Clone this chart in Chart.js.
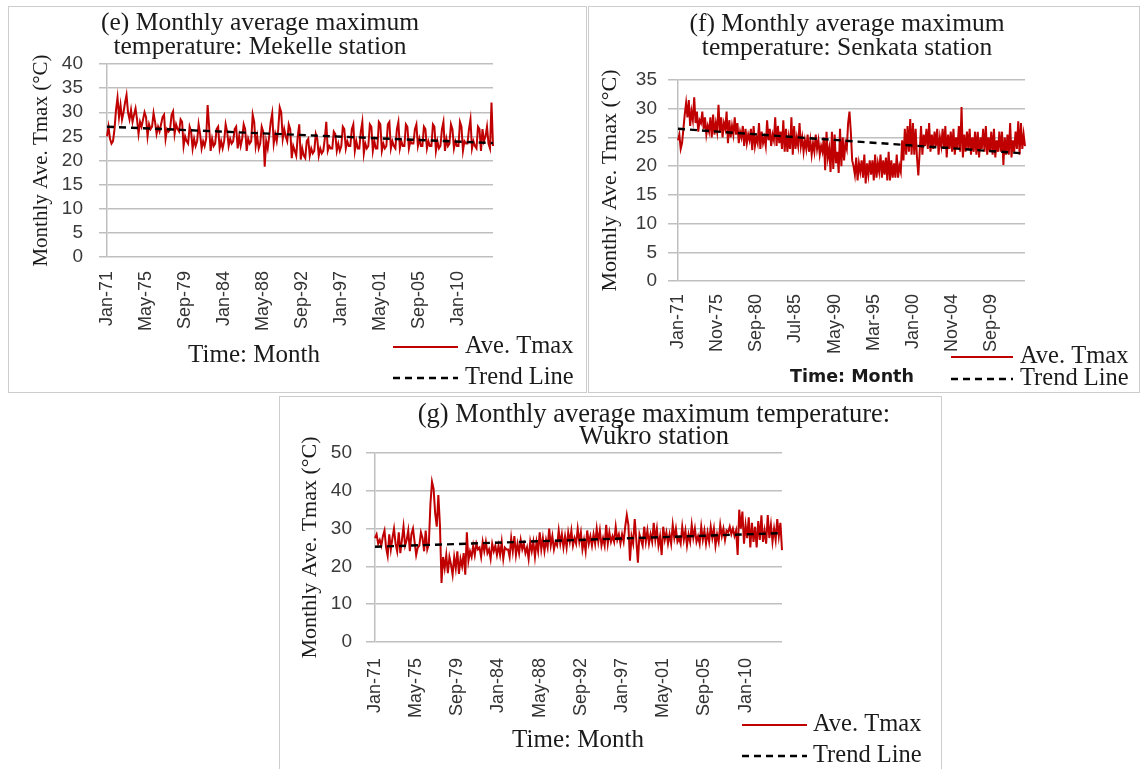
<!DOCTYPE html>
<html>
<head>
<meta charset="utf-8">
<title>Monthly average maximum temperature</title>
<script src="https://cdn.jsdelivr.net/npm/chart.js@4.4.1/dist/chart.umd.min.js"></script>
<style>
  html, body { margin: 0; background: #fff; }
  body { position: relative; width: 1141px; height: 769px; overflow: hidden; }
  .frame { position: absolute; box-sizing: border-box; border: 1px solid #cdcdcd; }
  canvas { position: absolute; }
</style>
</head>
<body>
<div class="frame" style="left:8px;top:6px;width:579px;height:387px"></div>
<div class="frame" style="left:588px;top:6px;width:552px;height:387px"></div>
<div class="frame" style="left:279px;top:396px;width:663px;height:380px"></div>
<canvas id="chartE" width="578" height="387" style="left:8px;top:6px"></canvas>
<canvas id="chartF" width="551" height="387" style="left:589px;top:6px"></canvas>
<canvas id="chartG" width="663" height="373" style="left:279px;top:396px"></canvas>

<script>
// every other month, Jan-71 .. Nov-13
const MONTH_NAMES = ['Jan', 'Mar', 'May', 'Jul', 'Sep', 'Nov'];
const months = [];
for (let yr = 1971; yr <= 2013; yr++) {
    MONTH_NAMES.forEach(m => months.push(`${m}-${String(yr % 100).padStart(2, '0')}`));
}

// labels shown on the time axis
const ticksMekelle = ['Jan-71', 'May-75', 'Sep-79', 'Jan-84', 'May-88', 'Sep-92', 'Jan-97', 'May-01', 'Sep-05', 'Jan-10'];
const ticksSenkata = ['Jan-71', 'Nov-75', 'Sep-80', 'Jul-85', 'May-90', 'Mar-95', 'Jan-00', 'Nov-04', 'Sep-09'];
const ticksWukro = ['Jan-71', 'May-75', 'Sep-79', 'Jan-84', 'May-88', 'Sep-92', 'Jan-97', 'May-01', 'Sep-05', 'Jan-10'];

// Ave. Tmax (°C), one row per year
const tmaxMekelle = [
    25.0, 27.0, 24.5, 23.5, 24.0, 26.5,
    30.5, 33.0, 29.0, 31.5, 28.5, 30.0,
    32.0, 33.6, 30.0, 28.5, 30.5, 28.0,
    29.5, 30.8, 28.5, 25.5, 28.0, 27.0,
    28.5, 30.0, 29.0, 25.0, 27.5, 26.5,
    27.0, 29.8, 28.0, 25.5, 27.0, 26.0,
    27.5, 29.0, 29.5, 24.5, 26.5, 26.0,
    26.5, 29.5, 30.2, 25.5, 27.5, 26.5,
    26.0, 28.5, 28.0, 23.0, 25.0, 24.0,
    23.5, 27.0, 26.0, 22.5, 24.5, 23.0,
    24.0, 27.5, 25.5, 22.5, 24.0, 23.0,
    24.5, 31.5, 27.0, 22.0, 24.5, 23.0,
    23.5, 26.5, 27.0, 22.5, 24.0, 22.5,
    24.0, 27.5, 26.0, 23.0, 24.5, 23.5,
    24.0, 26.5, 27.0, 22.5, 25.0, 23.0,
    24.5, 27.5, 26.5, 22.0, 24.5, 23.5,
    24.0, 29.5, 28.0, 23.0, 25.0, 22.5,
    23.5, 27.0, 26.0, 18.7, 24.0, 22.5,
    25.0, 28.0, 29.8, 23.5, 25.5, 24.0,
    26.5, 31.0, 30.0, 24.5, 26.5, 25.0,
    24.0, 27.5, 26.5, 20.5, 23.0, 22.0,
    21.0, 25.0, 27.5, 20.2, 22.5, 21.0,
    20.5, 24.0, 24.5, 21.0, 22.5, 21.5,
    22.0, 25.5, 24.5, 21.0, 22.5, 21.5,
    22.0, 24.5, 28.0, 22.0, 23.0, 22.5,
    22.5, 26.0, 25.5, 22.0, 23.5, 22.0,
    23.0, 27.0, 26.5, 22.5, 24.0, 23.0,
    23.0, 26.5, 27.5, 22.0, 24.0, 22.5,
    22.5, 26.0, 28.0, 21.5, 23.5, 22.5,
    23.0, 27.5, 27.0, 22.0, 24.0, 22.5,
    22.5, 28.0, 27.5, 22.0, 23.5, 22.5,
    23.0, 27.5, 28.0, 22.5, 24.0, 23.0,
    22.5, 26.5, 28.0, 22.5, 24.0, 23.0,
    23.0, 27.5, 27.0, 22.5, 24.0, 23.5,
    23.5, 26.5, 27.5, 23.0, 24.5, 23.0,
    23.0, 27.0, 26.5, 22.5, 24.0, 23.0,
    23.0, 27.5, 27.0, 22.0, 24.0, 22.5,
    23.0, 26.5, 28.0, 22.0, 24.5, 23.0,
    23.5, 27.5, 26.5, 22.5, 24.0, 23.0,
    23.0, 28.0, 27.0, 22.0, 24.0, 23.5,
    23.5, 26.5, 28.5, 22.5, 24.0, 23.0,
    22.5, 27.0, 26.5, 22.0, 26.5, 24.0,
    25.0, 27.0, 23.5, 22.5, 32.0, 23.0
];

const tmaxSenkata = [
    24.5, 25.5, 23.0, 24.0, 26.5, 29.0,
    31.0, 28.5, 31.5, 27.0, 29.5, 28.0,
    32.0, 27.5, 29.5, 26.0, 28.0, 27.5,
    29.5, 26.5, 28.5, 25.5, 27.0, 26.0,
    28.5, 25.0, 29.0, 25.5, 27.5, 26.0,
    30.7, 26.0, 28.5, 25.0, 27.5, 26.5,
    29.5, 24.0, 28.0, 25.0, 27.0, 25.5,
    28.5, 25.5, 27.5, 24.0, 26.0, 25.0,
    27.0, 23.5, 26.5, 24.0, 25.5, 24.5,
    26.5, 22.8, 27.0, 23.5, 25.0, 24.0,
    27.5, 23.0, 26.0, 24.0, 25.0, 23.5,
    28.0, 24.5, 26.5, 23.5, 25.5, 24.5,
    28.5, 23.5, 27.0, 24.0, 26.0, 23.0,
    28.0, 22.5, 26.5, 22.5, 25.0, 23.0,
    28.5, 22.0, 27.0, 23.0, 25.0, 23.5,
    27.5, 23.5, 25.0, 22.5, 24.5, 23.0,
    25.5, 22.5, 24.5, 22.0, 24.0, 22.5,
    25.5, 23.0, 24.5, 22.0, 23.5, 22.5,
    25.0, 19.3, 26.0, 21.5, 23.0, 19.0,
    26.0, 19.5, 25.5, 20.5, 22.5, 18.8,
    26.5, 20.0, 25.0, 21.0, 24.0, 23.0,
    27.5, 29.5, 26.0, 21.0, 20.0, 18.5,
    21.5, 17.5, 20.5, 19.0, 21.0, 18.0,
    22.0, 17.0, 20.5, 18.5, 21.0, 18.5,
    21.0, 17.5, 22.0, 18.0, 20.5, 19.0,
    22.0, 18.0, 21.0, 18.5, 21.5, 17.5,
    22.5, 17.5, 21.0, 18.0, 20.5, 18.0,
    22.0, 18.0, 20.0, 19.0, 24.5, 21.0,
    26.5, 22.0, 27.0, 22.5, 28.2, 22.0,
    27.5, 22.0, 26.5, 21.5, 18.4, 22.5,
    27.0, 22.0, 25.5, 23.5, 26.5, 23.0,
    27.5, 22.5, 25.5, 23.0, 26.0, 23.5,
    26.5, 22.0, 25.0, 23.5, 26.5, 23.0,
    27.0, 21.5, 25.5, 23.0, 26.0, 22.5,
    26.5, 22.0, 25.0, 23.0, 27.0, 22.5,
    30.3, 21.5, 25.5, 22.5, 26.0, 23.0,
    26.5, 22.0, 25.0, 22.5, 26.0, 22.0,
    26.0, 21.5, 25.0, 23.0, 26.5, 22.5,
    27.0, 22.0, 25.0, 22.5, 26.0, 22.0,
    26.5, 21.5, 24.5, 22.5, 26.0, 22.5,
    26.0, 20.2, 25.0, 22.0, 25.5, 22.0,
    27.5, 21.5, 24.5, 22.5, 26.0, 23.0,
    27.8, 22.0, 27.5, 23.0, 25.5, 23.5
];

const tmaxWukro = [
    27.5, 28.5, 26.0, 27.0, 25.5, 28.0,
    29.5, 25.0, 22.8, 28.5, 24.5, 27.5,
    30.0, 26.0, 24.0, 29.0, 23.5, 27.0,
    30.5, 25.5, 27.0, 29.5, 24.0, 28.5,
    30.0, 26.5, 23.0, 25.0, 25.5, 29.0,
    27.5, 24.0, 29.5, 24.5, 26.0, 36.5,
    42.4, 40.5, 34.0, 30.5, 38.9, 31.0,
    15.6, 22.5, 19.5, 23.0, 18.2, 22.5,
    20.5, 17.8, 22.5, 19.5, 24.0, 18.0,
    22.0, 20.0, 23.5, 17.8, 29.0, 21.5,
    24.0, 22.5, 25.5, 23.0, 26.0, 24.5,
    25.0, 22.5, 26.5, 24.0, 26.5, 23.5,
    24.5, 22.0, 26.0, 24.0, 25.5, 23.0,
    25.5, 23.0, 26.5, 22.0, 25.0, 24.5,
    24.5, 22.5, 27.5, 24.0, 28.0, 23.0,
    26.0, 23.5, 27.0, 24.5, 26.0, 23.5,
    25.0, 22.0, 26.5, 24.0, 26.5, 22.5,
    26.5, 24.0, 29.0, 24.5, 27.5, 24.0,
    27.0, 25.0, 30.0, 25.5, 28.0, 24.5,
    26.5, 25.5, 29.5, 26.0, 28.5, 25.0,
    28.0, 25.0, 29.0, 26.5, 29.5, 25.5,
    27.5, 26.0, 30.0, 26.5, 29.0, 24.5,
    27.0, 24.0, 29.5, 26.0, 28.0, 25.5,
    28.5, 26.0, 30.0, 26.5, 29.5, 25.5,
    27.5, 25.5, 31.0, 26.0, 29.0, 26.5,
    28.0, 26.5, 30.5, 27.0, 28.5, 26.0,
    28.5, 26.5, 30.5, 33.6, 31.0, 21.5,
    28.0, 26.0, 32.5, 27.0, 21.0, 28.5,
    27.0, 25.5, 30.5, 26.5, 29.5, 26.0,
    28.5, 26.5, 31.5, 27.0, 30.0, 25.5,
    28.0, 23.0, 30.5, 27.0, 29.0, 26.0,
    28.5, 26.0, 31.0, 27.5, 30.0, 26.5,
    27.5, 26.0, 30.5, 27.0, 29.5, 25.5,
    28.5, 26.5, 31.0, 27.5, 30.0, 26.5,
    28.0, 26.0, 30.5, 27.0, 29.5, 26.0,
    29.0, 26.5, 30.5, 27.5, 30.0, 25.5,
    28.5, 26.5, 31.0, 28.0, 30.0, 27.0,
    29.5, 29.0, 30.5, 28.5, 30.0, 28.0,
    29.5, 23.0, 35.0, 30.0, 34.5, 26.0,
    31.0, 27.5, 33.0, 25.0, 31.5, 26.5,
    30.5, 25.0, 32.0, 27.0, 33.5, 26.5,
    29.5, 26.0, 33.6, 27.5, 31.0, 26.5,
    30.0, 27.0, 32.5, 28.0, 31.5, 24.3
];

// linear trend: value at first and last month
const trendMekelle = [27.0, 23.6];
const trendSenkata = [26.5, 22.2];
const trendWukro = [25.2, 28.8];

const TEXT = '#1a1a1a';
const GRID = '#bfbfbf';
const SERIF = "'Liberation Serif', 'Times New Roman', serif";
const SANS = "'Liberation Sans', Arial, sans-serif";

// headings, axis caption and the stacked legend, placed in canvas pixels
const panelText = {
    id: 'panelText',
    afterDraw(chart, args, opts) {
        const ctx = chart.ctx;
        ctx.save();
        ctx.fillStyle = TEXT;
        ctx.textBaseline = 'middle';

        ctx.textAlign = 'center';
        ctx.font = opts.titleFont;
        opts.title.forEach((line, i) => {
            ctx.fillText(line, opts.titleX, opts.titleY[i]);
        });

        ctx.font = opts.xTitleFont;
        ctx.fillText('Time: Month', opts.xTitleX, opts.xTitleY);

        ctx.textAlign = 'left';
        ctx.font = opts.legendFont;
        const lg = opts.legend;
        lg.order.forEach((dsIndex, row) => {
            const ds = chart.data.datasets[dsIndex];
            const y = lg.rows[row];
            ctx.beginPath();
            ctx.strokeStyle = ds.borderColor;
            ctx.lineWidth = ds.borderWidth;
            ctx.setLineDash(ds.borderDash || []);
            ctx.moveTo(lg.x0, y);
            ctx.lineTo(lg.x1, y);
            ctx.stroke();
            ctx.setLineDash([]);
            ctx.fillText(ds.label, lg.textX, y);
        });
        ctx.restore();
    }
};

function drawStation(canvasId, s) {
    const lastMonth = months[months.length - 1];

    return new Chart(document.getElementById(canvasId), {
        type: 'line',
        data: {
            labels: months,
            datasets: [
                {
                    label: 'Trend Line',
                    data: [
                        { x: months[0], y: s.trend[0] },
                        { x: lastMonth, y: s.trend[1] }
                    ],
                    borderColor: '#000000',
                    borderWidth: 2.4,
                    borderDash: [7, 5],
                    pointRadius: 0,
                    order: 0
                },
                {
                    label: 'Ave. Tmax',
                    data: s.values,
                    borderColor: '#c00000',
                    borderWidth: 2,
                    pointRadius: 0,
                    tension: 0,
                    order: 1
                }
            ]
        },
        options: {
            responsive: false,
            animation: false,
            events: [],
            layout: { padding: s.padding },
            plugins: {
                legend: { display: false },
                tooltip: { enabled: false },
                panelText: s.text
            },
            scales: {
                x: {
                    grid: { display: false },
                    border: { display: false },
                    ticks: {
                        autoSkip: false,
                        minRotation: 90,
                        maxRotation: 90,
                        padding: s.xTickPad,
                        color: '#333333',
                        font: { family: SANS, size: 18 }
                    },
                    afterBuildTicks: axis => {
                        axis.ticks = axis.ticks.filter(t => s.ticks.includes(months[t.value]));
                    },
                    afterFit: axis => { axis.height = s.xHeight; }
                },
                y: {
                    min: 0,
                    max: s.yMax,
                    ticks: {
                        autoSkip: false,
                        stepSize: s.yStep,
                        padding: s.yTickPad,
                        color: '#3a3a3a',
                        font: { family: SANS, size: 19 }
                    },
                    grid: { color: GRID, lineWidth: 1.5, tickLength: s.tickLen },
                    border: { color: GRID, width: 1.5 },
                    title: {
                        display: true,
                        text: 'Monthly Ave. Tmax (°C)',
                        color: TEXT,
                        font: { family: SERIF, size: s.yTitleSize },
                        padding: { top: s.yTitlePad, bottom: 0 }
                    },
                    afterFit: axis => { axis.width = s.yWidth; }
                }
            }
        },
        plugins: [panelText]
    });
}

drawStation('chartE', {
    values: tmaxMekelle,
    trend: trendMekelle,
    ticks: ticksMekelle,
    yMax: 40, yStep: 5,
    padding: { left: 0, top: 58, right: 93, bottom: 0 },
    yWidth: 99, xHeight: 136,
    tickLen: 8, yTickPad: 16, xTickPad: 6,
    yTitleSize: 21, yTitlePad: 21,
    text: {
        title: ['(e) Monthly average maximum', 'temperature: Mekelle station'],
        titleFont: `25.5px ${SERIF}`, titleX: 252, titleY: [17, 41],
        xTitleFont: `25px ${SERIF}`, xTitleX: 246, xTitleY: 349,
        legendFont: `24.5px ${SERIF}`,
        legend: { order: [1, 0], x0: 385, x1: 450, textX: 457, rows: [341, 372] }
    }
});

drawStation('chartF', {
    values: tmaxSenkata,
    trend: trendSenkata,
    ticks: ticksSenkata,
    yMax: 35, yStep: 5,
    padding: { left: 0, top: 74, right: 115, bottom: 0 },
    yWidth: 89, xHeight: 112,
    tickLen: 10, yTickPad: 11, xTickPad: 5,
    yTitleSize: 22, yTitlePad: 8,
    text: {
        title: ['(f) Monthly average maximum', 'temperature: Senkata station'],
        titleFont: `25.5px ${SERIF}`, titleX: 258, titleY: [18, 42],
        xTitleFont: "bold 17.5px 'DejaVu Sans', Verdana, sans-serif", xTitleX: 263, xTitleY: 371,
        legendFont: `24.5px ${SERIF}`,
        legend: { order: [1, 0], x0: 362, x1: 424, textX: 431, rows: [351, 373] }
    }
});

drawStation('chartG', {
    values: tmaxWukro,
    trend: trendWukro,
    ticks: ticksWukro,
    yMax: 50, yStep: 10,
    padding: { left: 0, top: 57, right: 160, bottom: 0 },
    yWidth: 96, xHeight: 127,
    tickLen: 9, yTickPad: 14, xTickPad: 8,
    yTitleSize: 22, yTitlePad: 18,
    text: {
        title: ['(g) Monthly average maximum temperature:', 'Wukro station'],
        titleFont: `26.5px ${SERIF}`, titleX: 375, titleY: [19, 41],
        xTitleFont: `25px ${SERIF}`, xTitleX: 299, xTitleY: 344,
        legendFont: `24.5px ${SERIF}`,
        legend: { order: [1, 0], x0: 463, x1: 528, textX: 534, rows: [329, 360] }
    }
});
</script>
</body>
</html>
